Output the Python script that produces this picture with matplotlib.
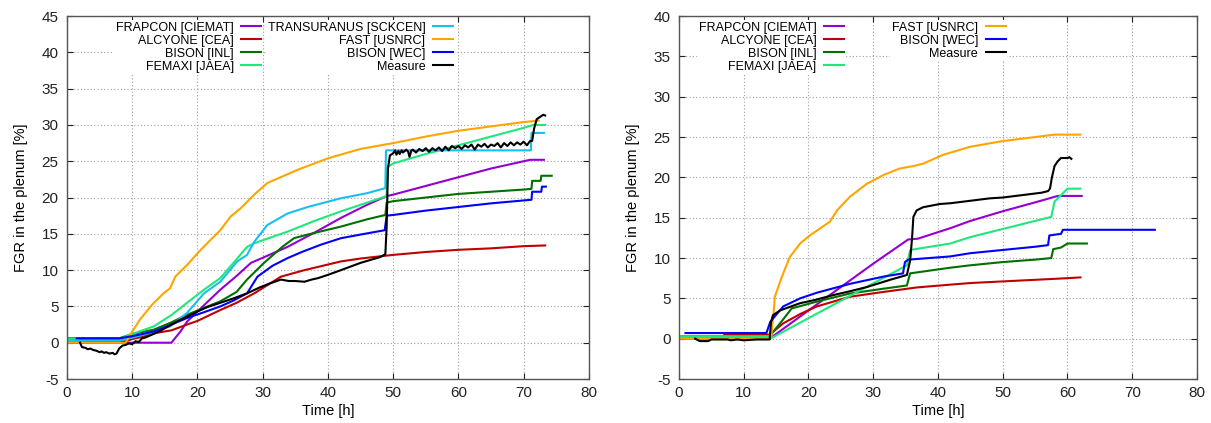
import numpy as np
import matplotlib
matplotlib.use("Agg")
import matplotlib.pyplot as plt

plt.rcParams['font.family'] = ['Liberation Sans', 'DejaVu Sans']
plt.rcParams['axes.unicode_minus'] = False

# --- couleurs des codes (style gnuplot) ---
c_frapcon = '#9400d3'
c_alcyone = '#c00000'
c_bison_inl = '#007000'
c_femaxi = '#1ee87c'
c_transuranus = '#18bff0'
c_fast = '#ffa500'
c_bison_wec = '#0000ff'
c_measure = '#000000'

# --- essai A (gauche) : (temps [h], FGR [%]) ---
frapcon_a = np.array([(0, 0), (16.0, 0), (17.4, 1.55), (18.4, 2.9), (20, 4.3), (23.5, 7.3), (26, 9.2),
                      (28.2, 11.0), (30, 11.7), (33.8, 13.2), (38, 15.2), (42, 17.2), (46, 19.0),
                      (49, 20.2), (50, 20.4), (55, 21.6), (60, 22.8), (65, 24.0), (70, 25.0),
                      (71.0, 25.2), (73.1, 25.2)])
alcyone_a = np.array([(0, 0), (9, 0.2), (10, 0.5), (11.5, 0.8), (13.3, 1.3), (16, 1.7), (18.4, 2.5),
                      (20, 3.0), (23.5, 4.5), (26, 5.5), (28.7, 6.8), (32.8, 9.1), (36.4, 10.0),
                      (42, 11.2), (45, 11.6), (48, 11.9), (50, 12.1), (55, 12.5), (60, 12.8),
                      (65, 13.0), (70, 13.3), (73.3, 13.4)])
bison_inl_a = np.array([(0, 0.6), (8, 0.6), (10, 1.2), (13.3, 1.8), (16, 2.8), (18.4, 3.85), (21, 4.8),
                        (23.5, 5.7), (26, 7.0), (27.6, 8.7), (30.2, 11.0), (33, 13.2), (34.8, 14.4),
                        (36.9, 14.9), (42, 16.0), (46, 17.0), (48.8, 17.6), (49.0, 19.3), (50, 19.5),
                        (55, 20.0), (60, 20.5), (65, 20.8), (70, 21.1), (71.2, 21.2), (71.3, 22.3),
                        (72.6, 22.3), (72.7, 23.0), (74.3, 23.0)])
femaxi_a = np.array([(0, 0.5), (8, 0.5), (10, 1.2), (13.3, 2.25), (16, 3.8), (18.4, 5.5), (21, 7.3),
                     (23.5, 8.9), (26, 11.5), (27.6, 13.2), (28.7, 13.7), (33.8, 15.3), (38, 16.8),
                     (42, 18.1), (46, 19.3), (49.0, 20.2), (49.1, 24.2), (50, 24.7), (55, 26.0),
                     (60, 27.2), (65, 28.4), (70, 29.6), (71.5, 30.0), (73.3, 30.0)])
transuranus_a = np.array([(0, 0.3), (8, 0.3), (10, 0.7), (13, 1.4), (15.8, 2.25), (18.4, 4.1), (21, 6.8),
                          (23.5, 8.4), (26.1, 11.2), (27.6, 12.1), (28.7, 13.9), (30.7, 16.2),
                          (33.8, 17.8), (36.9, 18.7), (42, 19.9), (46, 20.6), (48.8, 21.3),
                          (48.9, 26.5), (71.1, 26.5), (71.2, 28.9), (73.1, 28.9)])
fast_a = np.array([(0, 0), (9.0, 0), (9.7, 1.1), (11.2, 3.2), (13.0, 5.2), (14.8, 6.8), (15.8, 7.5),
                   (16.6, 9.1), (18.4, 10.7), (20.5, 12.8), (23.5, 15.5), (25.1, 17.4), (26.6, 18.5),
                   (28.7, 20.4), (30.7, 22.0), (35.3, 23.8), (40, 25.4), (45, 26.7), (50, 27.5),
                   (55, 28.4), (60, 29.2), (65, 29.8), (70, 30.4), (72.3, 30.6)])
bison_wec_a = np.array([(1.5, 0.6), (8, 0.6), (10, 0.9), (13.3, 1.55), (16, 2.5), (18.4, 3.4), (21, 4.2),
                        (23.5, 5.0), (25.5, 5.8), (27.6, 6.8), (29.2, 9.1), (31.5, 10.6), (33.8, 11.65),
                        (36, 12.5), (38.9, 13.5), (42, 14.4), (45, 14.9), (48.7, 15.5), (49.0, 17.5),
                        (50, 17.6), (55, 18.2), (60, 18.7), (65, 19.2), (70, 19.6), (71.2, 19.7),
                        (71.3, 20.8), (72.7, 20.8), (72.8, 21.5), (73.4, 21.5)])
measure_a = np.array([(2.0, 0.0), (2.3, -0.6), (2.8, -0.7), (3.2, -0.9), (3.6, -0.8), (4.0, -1.0),
                      (4.5, -1.1), (5.0, -1.3), (5.3, -1.2), (5.7, -1.4), (6.0, -1.3), (6.5, -1.5),
                      (7.0, -1.4), (7.3, -1.6), (7.6, -1.5), (8.0, -0.8), (8.5, -0.4), (9.0, -0.3),
                      (9.5, -0.1), (10.0, -0.2), (10.5, 0.2), (11.0, 0.1), (11.5, 0.6), (12.0, 0.7),
                      (13.0, 1.1), (14.0, 1.5), (15.0, 2.0), (16.0, 2.5), (17.0, 3.0), (18.4, 3.6),
                      (20.0, 4.3), (21.5, 4.9), (23.5, 5.5), (25.5, 6.1), (27.6, 6.8), (29.5, 7.6),
                      (31.2, 8.2), (32.8, 8.7), (34.0, 8.5), (35.0, 8.5), (36.4, 8.4), (37.5, 8.7),
                      (38.5, 8.9), (40.0, 9.35), (42.0, 10.0), (43.5, 10.5), (45.0, 11.0), (46.5, 11.4),
                      (48.0, 11.8), (48.8, 12.2), (49.0, 16.0), (49.2, 24.0), (49.5, 25.8), (50.0, 26.1),
                      (50.3, 26.5), (50.5, 25.9), (50.8, 26.4), (51.0, 26.0), (51.3, 26.5), (51.5, 26.2),
                      (52.0, 26.6), (52.3, 26.3), (52.5, 25.6), (52.8, 26.5), (53.0, 26.6), (53.5, 26.2),
                      (54.0, 26.7), (54.5, 26.4), (55.0, 26.8), (55.5, 26.3), (56.0, 26.8), (56.5, 26.5),
                      (57.0, 26.9), (57.5, 26.4), (58.0, 27.0), (58.5, 26.5), (59.0, 27.1), (59.5, 26.8),
                      (60.0, 27.1), (60.5, 26.7), (61.0, 27.2), (61.5, 26.9), (62.0, 27.3), (62.5, 26.6),
                      (63.0, 27.3), (63.5, 27.0), (64.0, 27.4), (64.5, 26.9), (65.0, 27.3), (65.5, 27.1),
                      (66.0, 27.5), (66.5, 26.9), (67.0, 27.5), (67.5, 27.1), (68.0, 27.6), (68.5, 27.2),
                      (69.0, 27.6), (69.5, 27.3), (70.0, 27.7), (70.5, 27.2), (71.0, 27.8), (71.3, 27.8),
                      (71.6, 29.5), (72.0, 30.8), (72.5, 31.1), (73.0, 31.4), (73.3, 31.3)])

# --- essai B (droite) ---
frapcon_b = np.array([(0, 0), (14, 0), (20, 3.5), (25, 6.4), (30, 9.3), (35.4, 12.3), (36.9, 12.4),
                      (41.9, 13.7), (45, 14.6), (50, 15.8), (55, 16.9), (58.5, 17.7), (62.2, 17.7)])
alcyone_b = np.array([(7, 0.5), (14, 0.5), (16.1, 1.9), (18.7, 3.05), (21.3, 4.0), (26.4, 5.2),
                      (31.6, 5.8), (36.7, 6.35), (41.9, 6.7), (45, 6.9), (50, 7.1), (55, 7.3),
                      (60, 7.5), (62, 7.6)])
bison_inl_b = np.array([(0, 0.3), (14, 0.3), (15, 1.3), (16, 2.3), (17.4, 3.75), (21.3, 4.6), (26.4, 5.6),
                        (31.6, 6.2), (35.2, 6.6), (35.7, 8.1), (41.9, 8.8), (45, 9.1), (50, 9.5),
                        (55, 9.8), (57.5, 10.0), (57.8, 11.1), (59, 11.3), (60, 11.8), (63, 11.8)])
femaxi_b = np.array([(0, 0.3), (14, 0.3), (14.1, 0.0), (35.2, 9.1), (35.7, 11.0), (41.9, 11.8),
                     (45, 12.6), (50, 13.6), (55, 14.6), (57.5, 15.1), (58, 17.0), (59, 17.8),
                     (60, 18.6), (62, 18.6)])
fast_b = np.array([(0, 0), (14.2, 0), (14.6, 3.1), (14.8, 5.2), (15.9, 7.7), (17.1, 10.1), (18.7, 11.8),
                   (20.2, 12.8), (23.3, 14.5), (24.4, 15.9), (26.4, 17.6), (29.0, 19.2), (31.6, 20.3),
                   (34.1, 21.1), (36.2, 21.4), (37.7, 21.7), (40.8, 22.8), (45, 23.8), (50, 24.5),
                   (55, 25.0), (58, 25.3), (62, 25.3)])
bison_wec_b = np.array([(1, 0.7), (13.5, 0.7), (14.1, 2.1), (16.1, 4.0), (18.7, 5.0), (21.3, 5.7),
                        (26.4, 6.8), (31.6, 7.7), (34.6, 8.1), (34.9, 9.5), (35.4, 9.8), (41.9, 10.2),
                        (45, 10.6), (50, 11.0), (55, 11.4), (57, 11.6), (57.2, 12.8), (59, 13.0),
                        (59.3, 13.5), (73.5, 13.5)])
measure_b = np.array([(2.5, 0.0), (3.2, -0.3), (4.5, -0.3), (5.0, -0.1), (7.5, -0.1), (8.0, -0.2),
                      (9.0, -0.1), (10.0, -0.2), (12.0, -0.1), (14.0, -0.1), (14.2, 2.0), (14.5, 2.9),
                      (15.6, 3.5), (18.7, 4.4), (21, 4.8), (23.8, 5.4), (26.5, 5.9), (29, 6.4),
                      (32.6, 7.3), (35.2, 7.9), (35.7, 9.7), (36.0, 12.5), (36.2, 15.1), (36.7, 15.9),
                      (37.7, 16.3), (40.3, 16.7), (42, 16.8), (44, 17.0), (46, 17.2), (48, 17.4),
                      (50, 17.5), (52, 17.7), (54, 17.9), (56, 18.1), (57, 18.3), (57.3, 18.6),
                      (57.6, 20.0), (58, 21.4), (58.5, 22.0), (59, 22.4), (60, 22.4), (60.3, 22.5),
                      (60.6, 22.3)])

col1_a = [("FRAPCON [CIEMAT]", frapcon_a, c_frapcon), ("ALCYONE [CEA]", alcyone_a, c_alcyone),
          ("BISON [INL]", bison_inl_a, c_bison_inl), ("FEMAXI [JAEA]", femaxi_a, c_femaxi)]
col2_a = [("TRANSURANUS [SCKCEN]", transuranus_a, c_transuranus), ("FAST [USNRC]", fast_a, c_fast),
          ("BISON [WEC]", bison_wec_a, c_bison_wec), ("Measure", measure_a, c_measure)]
col1_b = [("FRAPCON [CIEMAT]", frapcon_b, c_frapcon), ("ALCYONE [CEA]", alcyone_b, c_alcyone),
          ("BISON [INL]", bison_inl_b, c_bison_inl), ("FEMAXI [JAEA]", femaxi_b, c_femaxi)]
col2_b = [("FAST [USNRC]", fast_b, c_fast), ("BISON [WEC]", bison_wec_b, c_bison_wec),
          ("Measure", measure_b, c_measure)]


def panel(ax, col1, col2, ymax, x_leg1, x_leg2):
    lines1, lines2 = [], []
    for lab, d, c in col1:
        l, = ax.plot(d[:, 0], d[:, 1], color=c, lw=1.5, label=lab)
        lines1.append(l)
    for lab, d, c in col2:
        l, = ax.plot(d[:, 0], d[:, 1], color=c, lw=1.5, label=lab, zorder=3 if lab == "Measure" else 2)
        lines2.append(l)

    ax.set_xlim(0, 80)
    ax.set_ylim(-5, ymax)
    ax.set_xticks(np.arange(0, 81, 10))
    ax.set_yticks(np.arange(-5, ymax + 1, 5))
    ax.grid(True, color='#a0a0a0', linestyle=(0, (1, 2)), linewidth=0.8)
    ax.tick_params(direction='in', top=True, right=True, length=4, labelsize=11, colors='#222222')
    ax.tick_params(axis='y', pad=6)
    ax.tick_params(axis='x', pad=5)
    for s in ax.spines.values():
        s.set_color('#555555')
        s.set_linewidth(1.0)
    ax.set_xlabel("Time [h]", fontsize=10.5, labelpad=3)
    ax.set_ylabel("FGR in the plenum [%]", fontsize=10.5, labelpad=10)

    kw = dict(loc='upper right', fontsize=9, markerfirst=False, handlelength=1.6,
              handletextpad=0.6, labelspacing=0.08, borderpad=0.15, borderaxespad=0,
              frameon=True, fancybox=False, facecolor='white', edgecolor='none', framealpha=1)
    leg1 = ax.legend(handles=lines1, bbox_to_anchor=(x_leg1, 0.99), **kw)
    ax.add_artist(leg1)
    ax.legend(handles=lines2, bbox_to_anchor=(x_leg2, 0.99), **kw)


fig = plt.figure(figsize=(12.11, 4.23), dpi=100)
ax1 = fig.add_axes([0.0553, 0.104, 0.431, 0.858])
ax2 = fig.add_axes([0.5607, 0.104, 0.4277, 0.858])

panel(ax1, col1_a, col2_a, 45, 0.376, 0.743)
panel(ax2, col1_b, col2_b, 40, 0.322, 0.634)

fig.savefig("out.png", dpi=100)
